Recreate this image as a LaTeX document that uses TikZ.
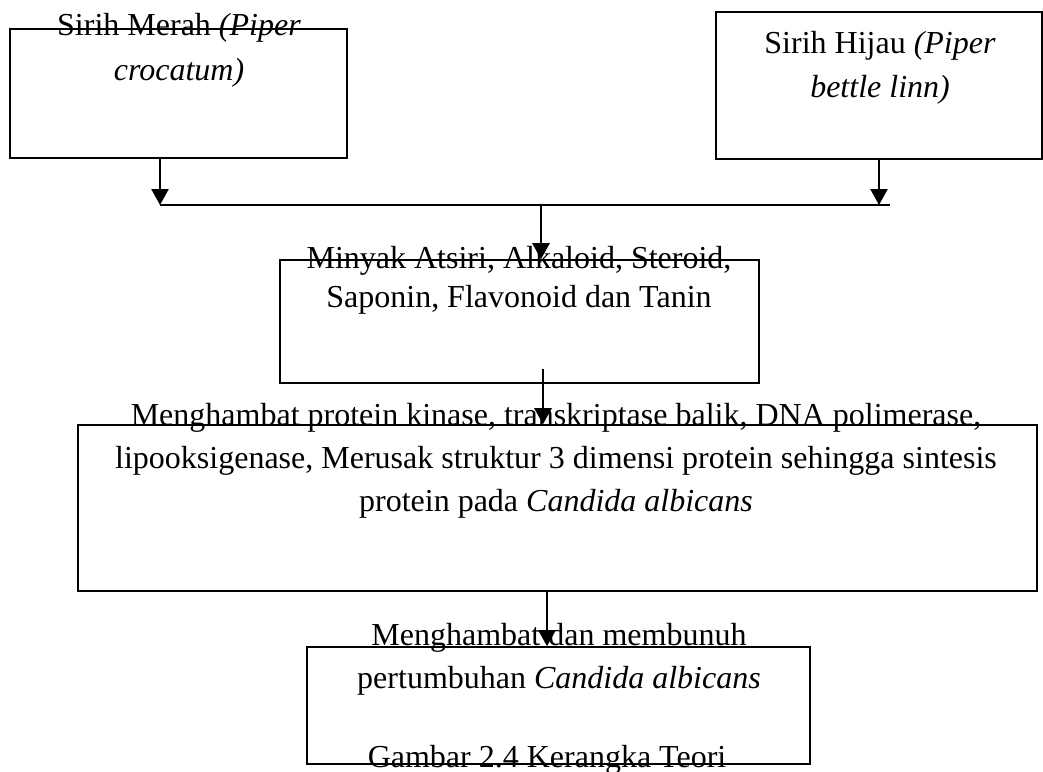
\documentclass[tikz,border=0pt]{standalone}
\usepackage{fontspec}
\setmainfont{Liberation Serif}
\usepackage{xcolor}
\usepackage{tikz}
\usetikzlibrary{arrows.meta,positioning,calc}
\definecolor{garis}{HTML}{000000}
\tikzset{
  kotak/.style={
    draw=garis, line width=0.8pt, inner sep=0pt
  },
  teks/.style={
    align=center, inner sep=0pt, anchor=base,
    font=\fontsize{16}{21.5}\selectfont
  },
  panah/.style={-{Triangle[length=8pt,width=8.5pt]}, line width=1.3pt, garis},
  sambung/.style={line width=0.9pt, garis},
}

\begin{document}
\begin{tikzpicture}[x=0.5pt, y=-0.5pt]
    \useasboundingbox (0,0) rectangle (1043,771);

    \node[kotak, minimum width=168.5pt, minimum height=64.5pt] (merah) at (178.5,93.5) {};
    \node[kotak, minimum width=163pt, minimum height=73.5pt] (hijau) at (879,85.5) {};
    \node[kotak, minimum width=239.5pt, minimum height=61.5pt] (senyawa) at (519.5,321.5) {};
    \node[kotak, minimum width=479.5pt, minimum height=83pt] (mekanisme) at (557.5,508) {};
    \node[kotak, minimum width=251.5pt, minimum height=58.5pt] (hasil) at (558.5,705.5) {};

    % teks (base = baris terakhir)
    \node[teks, font=\fontsize{16}{22.5}\selectfont] (tmerah) at (179,80)
         {Sirih Merah \textit{(Piper}\\\textit{crocatum)}};
    \node[teks, font=\fontsize{16}{22}\selectfont] (thijau) at (880,97)
         {Sirih Hijau \textit{(Piper}\\\textit{bettle linn)}};
    \node[teks, font=\fontsize{16}{19.5}\selectfont] (tsenyawa) at (519,307)
         {Minyak Atsiri, Alkaloid, Steroid,\\Saponin, Flavonoid dan Tanin};
    \node[teks] (tmekanisme) at (556,511)
         {Menghambat protein kinase, transkriptase balik, DNA polimerase,\\
          lipooksigenase, Merusak struktur 3 dimensi protein sehingga sintesis\\
          protein pada \textit{Candida albicans}};
    \node[teks] (thasil) at (559,688) {Menghambat dan membunuh\\pertumbuhan \textit{Candida albicans}};
    \node[teks] (judul) at (547,767) {Gambar 2.4 Kerangka Teori};

    % garis penghubung
    \coordinate (kiri) at (160,205);
    \coordinate (kanan) at (890,205);
    \coordinate (tengah) at (541,205);
    \coordinate (p2) at (543,369);
    \coordinate (p3) at (547,591);

    \draw[sambung] (kiri) -- (kanan);
    \draw[panah] (merah.south -| kiri) -- (kiri);
    \draw[panah] (hijau.south) -- (hijau.south |- kiri);
    \draw[panah] (tengah) -- (tengah |- senyawa.north);
    \draw[panah] (p2) -- (p2 |- mekanisme.north);
    \draw[panah] (p3) -- (p3 |- hasil.north);
\end{tikzpicture}
\end{document}
